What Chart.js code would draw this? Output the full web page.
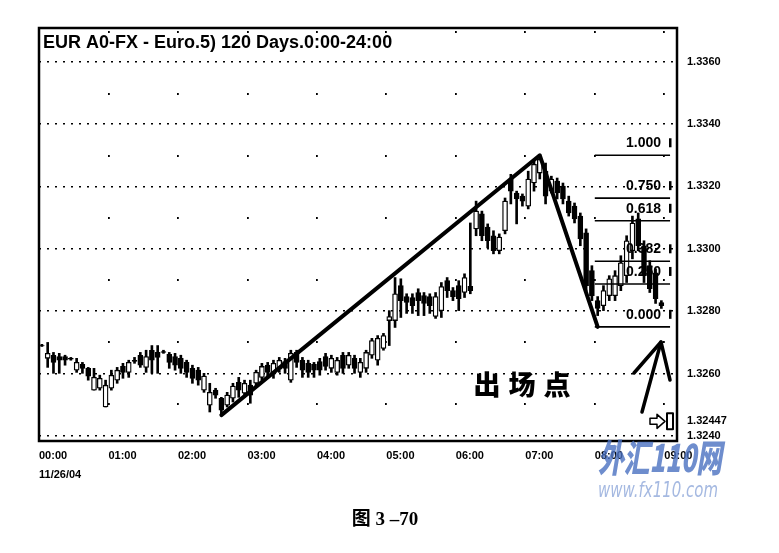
<!DOCTYPE html>
<html><head><meta charset="utf-8">
<script src="https://cdn.jsdelivr.net/npm/chart.js@4.4.1/dist/chart.umd.min.js"></script>
<style>html,body{margin:0;padding:0;background:#fff;}canvas{display:block}</style>
</head><body>
<canvas id="c" width="779" height="553"></canvas>
<script>
const chartTitle = "EUR A0-FX - Euro.5) 120 Days.0:00-24:00";
const dateLabel = "11/26/04";
const hourLabels = ["00:00","01:00","02:00","03:00","04:00","05:00","06:00","07:00","08:00","09:00"];
const barMinutes = 5;
const exitLabel = "出场点";
const caption = "图 3 –70";

const opens = [1.32690,1.32649,1.32659,1.32655,1.32655,1.32649,1.32611,1.32630,1.32617,1.32547,1.32553,1.32493,
1.32553,1.32579,1.32623,1.32604,1.32643,1.32659,1.32620,1.32675,1.32668,1.32671,1.32662,1.32655,
1.32649,1.32636,1.32617,1.32611,1.32547,1.32499,1.32547,1.32521,1.32499,1.32521,1.32572,1.32537,
1.32563,1.32569,1.32588,1.32627,1.32598,1.32614,1.32639,1.32579,1.32668,1.32643,1.32633,1.32630,
1.32639,1.32655,1.32617,1.32604,1.32659,1.32627,1.32649,1.32604,1.32617,1.32659,1.32643,1.32681,
1.32770,1.32770,1.32882,1.32847,1.32844,1.32860,1.32850,1.32847,1.32783,1.32802,1.32898,1.32866,
1.32882,1.32860,1.32880,1.33064,1.33112,1.33070,1.33042,1.32994,1.33058,1.33224,1.33179,1.33169,
1.33137,1.33211,1.33243,1.33249,1.33185,1.33217,1.33201,1.33153,1.33137,1.33105,1.33051,1.32930,
1.32834,1.32818,1.32850,1.32850,1.32882,1.32914,1.32994,1.33096,1.33010,1.32946,1.32923,1.32828];
const highs = [1.32694,1.32700,1.32668,1.32665,1.32659,1.32652,1.32649,1.32636,1.32620,1.32617,1.32595,1.32579,
1.32611,1.32620,1.32633,1.32643,1.32652,1.32668,1.32675,1.32690,1.32690,1.32675,1.32668,1.32665,
1.32659,1.32643,1.32627,1.32620,1.32601,1.32569,1.32553,1.32524,1.32540,1.32569,1.32588,1.32579,
1.32579,1.32611,1.32633,1.32636,1.32643,1.32652,1.32649,1.32675,1.32675,1.32652,1.32643,1.32636,
1.32649,1.32665,1.32659,1.32652,1.32668,1.32668,1.32659,1.32649,1.32675,1.32713,1.32722,1.32729,
1.32802,1.32908,1.32904,1.32856,1.32856,1.32872,1.32860,1.32856,1.32860,1.32892,1.32908,1.32876,
1.32898,1.32920,1.33083,1.33153,1.33121,1.33080,1.33058,1.33048,1.33163,1.33239,1.33185,1.33176,
1.33249,1.33281,1.33297,1.33275,1.33233,1.33227,1.33211,1.33169,1.33147,1.33115,1.33064,1.32946,
1.32847,1.32882,1.32914,1.32930,1.32978,1.33042,1.33105,1.33115,1.33026,1.32962,1.32936,1.32834];
const lows = [1.32687,1.32620,1.32601,1.32601,1.32627,1.32643,1.32604,1.32601,1.32579,1.32547,1.32547,1.32493,
1.32547,1.32569,1.32585,1.32588,1.32633,1.32620,1.32604,1.32601,1.32601,1.32665,1.32617,1.32611,
1.32601,1.32588,1.32569,1.32563,1.32540,1.32477,1.32521,1.32467,1.32493,1.32509,1.32524,1.32524,
1.32505,1.32563,1.32579,1.32588,1.32585,1.32604,1.32601,1.32572,1.32620,1.32588,1.32588,1.32588,
1.32595,1.32611,1.32604,1.32595,1.32601,1.32617,1.32601,1.32588,1.32604,1.32649,1.32627,1.32675,
1.32690,1.32748,1.32780,1.32793,1.32793,1.32786,1.32786,1.32793,1.32777,1.32780,1.32844,1.32834,
1.32802,1.32844,1.32856,1.33042,1.33026,1.33003,1.32984,1.32984,1.33048,1.33144,1.33080,1.33137,
1.33128,1.33185,1.33224,1.33144,1.33179,1.33160,1.33144,1.33105,1.33083,1.33010,1.32866,1.32834,
1.32786,1.32802,1.32834,1.32834,1.32866,1.32892,1.32968,1.32994,1.32892,1.32860,1.32825,1.32809];
const closes = [1.32689,1.32665,1.32636,1.32643,1.32643,1.32646,1.32636,1.32617,1.32592,1.32588,1.32585,1.32563,
1.32595,1.32611,1.32604,1.32636,1.32639,1.32627,1.32655,1.32643,1.32652,1.32668,1.32636,1.32627,
1.32617,1.32604,1.32585,1.32579,1.32592,1.32540,1.32531,1.32483,1.32531,1.32560,1.32547,1.32569,
1.32531,1.32604,1.32623,1.32604,1.32633,1.32643,1.32617,1.32665,1.32636,1.32611,1.32604,1.32611,
1.32611,1.32623,1.32649,1.32643,1.32617,1.32659,1.32617,1.32636,1.32668,1.32706,1.32713,1.32722,
1.32783,1.32856,1.32834,1.32828,1.32818,1.32834,1.32825,1.32818,1.32847,1.32879,1.32866,1.32847,
1.32840,1.32908,1.32866,1.33121,1.33042,1.33026,1.32994,1.33038,1.33153,1.33185,1.33160,1.33153,
1.33224,1.33271,1.33287,1.33169,1.33224,1.33179,1.33160,1.33115,1.33096,1.33032,1.32882,1.32850,
1.32809,1.32866,1.32904,1.32914,1.32955,1.33026,1.33083,1.33010,1.32914,1.32872,1.32840,1.32818];

const yTickValues = [1.3240, 1.32447, 1.3260, 1.3280, 1.3300, 1.3320, 1.3340, 1.3360];
const yTickLabels = ["1.3240", "1.32447", "1.3260", "1.3280", "1.3300", "1.3320", "1.3340", "1.3360"];
const currentPrice = 1.32447;

const trendTimes = ["02:35", "07:10", "08:00"];
const trendPrices = [1.32467, 1.33300, 1.32750];

const fibHigh = 1.3330, fibLow = 1.3275;
const fibRatios = [1.000, 0.750, 0.618, 0.382, 0.250, 0.000];
const fibLabels = ["1.000", "0.750", "0.618", "0.382", "0.250", "0.000"];
const fibStartTime = "08:00", fibEndTime = "09:05";

function mins(s){ const p = s.split(":"); return (+p[0])*60 + (+p[1]); }
const half = barMinutes/2;
const candleX = opens.map((_, i) => i*barMinutes + half);

const bodies = opens.map((o, i) => ({x: candleX[i], y: [o, closes[i]]}));
const wicks = opens.map((o, i) => ({x: candleX[i], y: [lows[i], highs[i]]}));
const bodyColors = opens.map((o, i) => closes[i] >= o ? '#ffffff' : '#000000');

const datasets = [
  {type:'line', data: trendTimes.map((t,i)=>({x: mins(t)+half, y: trendPrices[i]})),
   borderColor:'#000', borderWidth:4, pointRadius:0, tension:0, borderCapStyle:'round', borderJoinStyle:'round', order:0},
  {type:'bar', data: bodies, backgroundColor: bodyColors, borderColor:'#000', borderWidth:1.3,
   borderSkipped:false, barThickness:5, grouped:false, order:1},
  {type:'bar', data: wicks, backgroundColor:'#000', borderWidth:0, barThickness:2, grouped:false, order:2}
];
fibRatios.forEach(r => {
  const lvl = fibLow + r*(fibHigh - fibLow);
  datasets.push({type:'line', data:[{x: mins(fibStartTime), y: lvl},{x: mins(fibEndTime), y: lvl}],
    borderColor:'#000', borderWidth:1.6, pointRadius:0, order:0});
});

const F = "'Liberation Sans', Arial, sans-serif";

const deco = {
  id:'deco',
  beforeDraw(c){ const g=c.ctx; g.save(); g.fillStyle='#fff'; g.fillRect(0,0,c.width,c.height); g.restore(); },
  afterDatasetsDraw(c){
    const g=c.ctx, a=c.chartArea, xs=c.scales.x, ys=c.scales.y;
    g.save();
    g.strokeStyle='#000'; g.lineWidth=2.5;
    g.strokeRect(a.left, a.top, a.right-a.left, a.bottom-a.top);
    g.fillStyle='#000'; g.font='bold 18px '+F; g.textBaseline='middle'; g.textAlign='left';
    g.fillText(chartTitle, a.left+4, 43, 362);
    g.font='bold 14px '+F; g.textAlign='right';
    fibRatios.forEach((r,i)=>{
      const y = ys.getPixelForValue(fibLow + r*(fibHigh-fibLow));
      g.fillText(fibLabels[i], 661, y-12);
      g.fillRect(669, y-17, 2.5, 9);
    });
    g.font='900 27px "Noto Sans CJK SC"'; g.textAlign='center';
    const chars = Array.from(exitLabel);
    chars.forEach((ch,i)=> g.fillText(ch, 487 + i*35, 385));
    g.lineWidth=3.5; g.lineCap='round'; g.lineJoin='round';
    g.beginPath(); g.moveTo(642,412); g.lineTo(661,342); g.stroke();
    g.beginPath(); g.moveTo(634,373); g.lineTo(661,342); g.lineTo(670,380); g.stroke();
    const py = ys.getPixelForValue(currentPrice);
    g.lineWidth=1.5;
    g.beginPath(); g.moveTo(650,py-3); g.lineTo(657,py-3); g.lineTo(657,py-7); g.lineTo(665,py);
    g.lineTo(657,py+7); g.lineTo(657,py+3); g.lineTo(650,py+3); g.closePath(); g.stroke();
    g.lineWidth=2; g.strokeRect(667,py-8,6,16);
    g.restore();
  },
  afterDraw(c){
    const g=c.ctx;
    g.save();
    g.fillStyle='#000'; g.textAlign='center'; g.textBaseline='middle';
    g.font='bold 19px "Liberation Serif", "Noto Sans CJK SC"';
    g.fillText(caption, 385, 520);
    g.globalAlpha=0.8;
    g.textAlign='left';
    g.font='italic 900 38px "Noto Sans CJK SC"';
    g.fillStyle='#4a70c0';
    g.fillText("外汇110网", 598, 458, 124);
    g.font='italic 21px "DejaVu Sans"';
    g.fillStyle='#8ea8da';
    g.fillText("www.fx110.com", 598, 492, 120);
    g.restore();
  }
};

new Chart(document.getElementById('c'), {
  type:'bar',
  data:{ datasets },
  options:{
    responsive:false, animation:false, devicePixelRatio:1, events:[],
    layout:{padding:{left:39, top:28, right:0, bottom:0}},
    plugins:{legend:{display:false}, tooltip:{enabled:false}, title:{display:false}},
    scales:{
      x:{type:'linear', min:0, max:551, offset:false,
        afterBuildTicks:s=>{ s.ticks = hourLabels.map((h,i)=>({value:i*60})); },
        afterFit:s=>{ s.height = 112; },
        ticks:{autoSkip:false, maxRotation:0, align:'start', padding:6, color:'#000',
          font:{family:F, weight:'bold', size:11, lineHeight:1.7},
          callback:(v,i)=> i===0 ? [hourLabels[0], dateLabel] : hourLabels[i]},
        grid:{offset:false, color:'#000', lineWidth:1.8, drawTicks:false},
        border:{display:false, dash:[2,60], dashOffset:59}
      },
      y:{type:'linear', position:'right', min:1.32384, max:1.33708,
        afterBuildTicks:s=>{ s.ticks = yTickValues.map(v=>({value:v})); },
        afterFit:s=>{ s.width = 102; },
        ticks:{autoSkip:false, padding:10, color:'#000', font:{family:F, weight:'bold', size:11},
          callback:(v,i)=> yTickLabels[i]},
        grid:{color:ctx=> (ctx.tick && ctx.tick.value===currentPrice) ? 'rgba(0,0,0,0)' : '#000',
          lineWidth:1.6, drawTicks:false},
        border:{display:false, dash:[2,6]}
      }
    }
  },
  plugins:[deco]
});
</script>
</body></html>
